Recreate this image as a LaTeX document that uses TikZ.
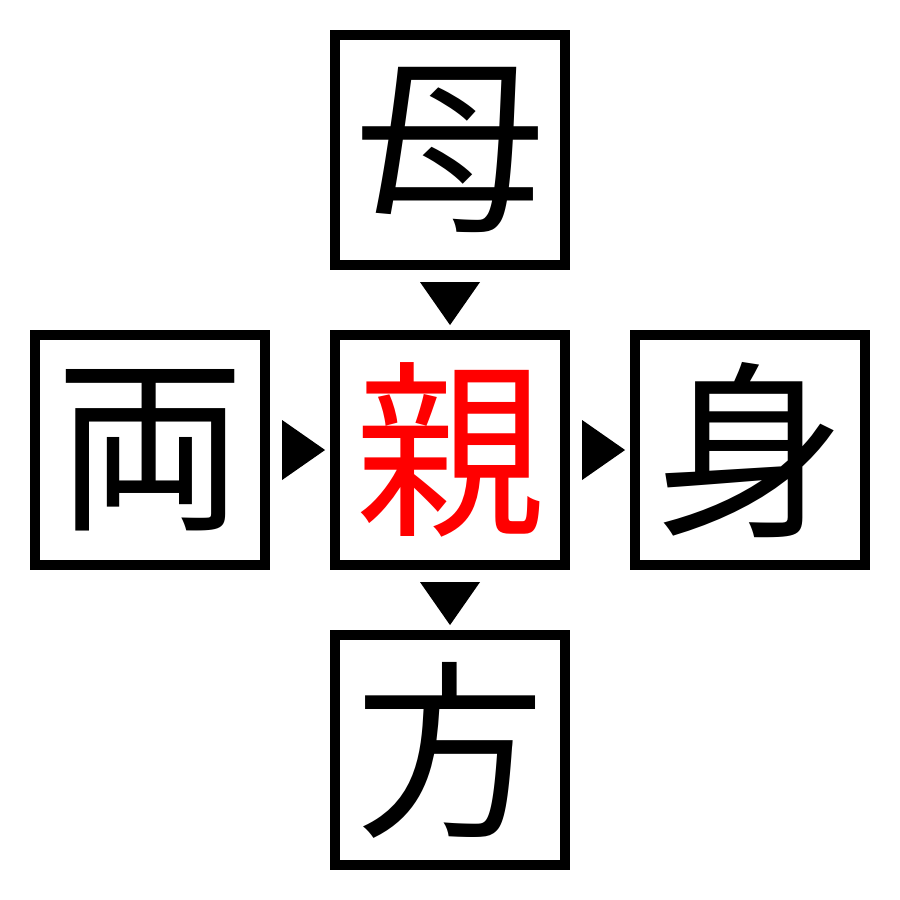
\documentclass[tikz,border=0pt]{standalone}
\usepackage{fontspec}
\newfontfamily\cjk{Noto Sans CJK JP}
\usetikzlibrary{calc}
\begin{document}
\begin{tikzpicture}[x=0.01cm,y=-0.01cm,
  kbox/.style={draw=black,line width=0.1cm,minimum size=2.3cm,inner sep=0pt,outer sep=0pt,
    font=\cjk\fontsize{54}{54}\selectfont},
  tri/.style={fill=black,draw=none}]
\useasboundingbox (0,0) rectangle (900,900);
\node[kbox] (top) at (450,150) {母};
\node[kbox] (left) at (150,450) {両};
\node[kbox,text=red] (mid) at (450,450) {親};
\node[kbox] (right) at (750,450) {身};
\node[kbox] (bot) at (450,750) {方};
\fill[tri] ($(top.south)+(-30,17)$) -- ($(top.south)+(30,17)$) -- ($(top.south)+(0,60)$) -- cycle;
\fill[tri] ($(mid.south)+(-30,17)$) -- ($(mid.south)+(30,17)$) -- ($(mid.south)+(0,60)$) -- cycle;
\fill[tri] ($(left.east)+(17,-30)$) -- ($(left.east)+(17,30)$) -- ($(left.east)+(60,0)$) -- cycle;
\fill[tri] ($(mid.east)+(17,-30)$) -- ($(mid.east)+(17,30)$) -- ($(mid.east)+(60,0)$) -- cycle;
\end{tikzpicture}
\end{document}
